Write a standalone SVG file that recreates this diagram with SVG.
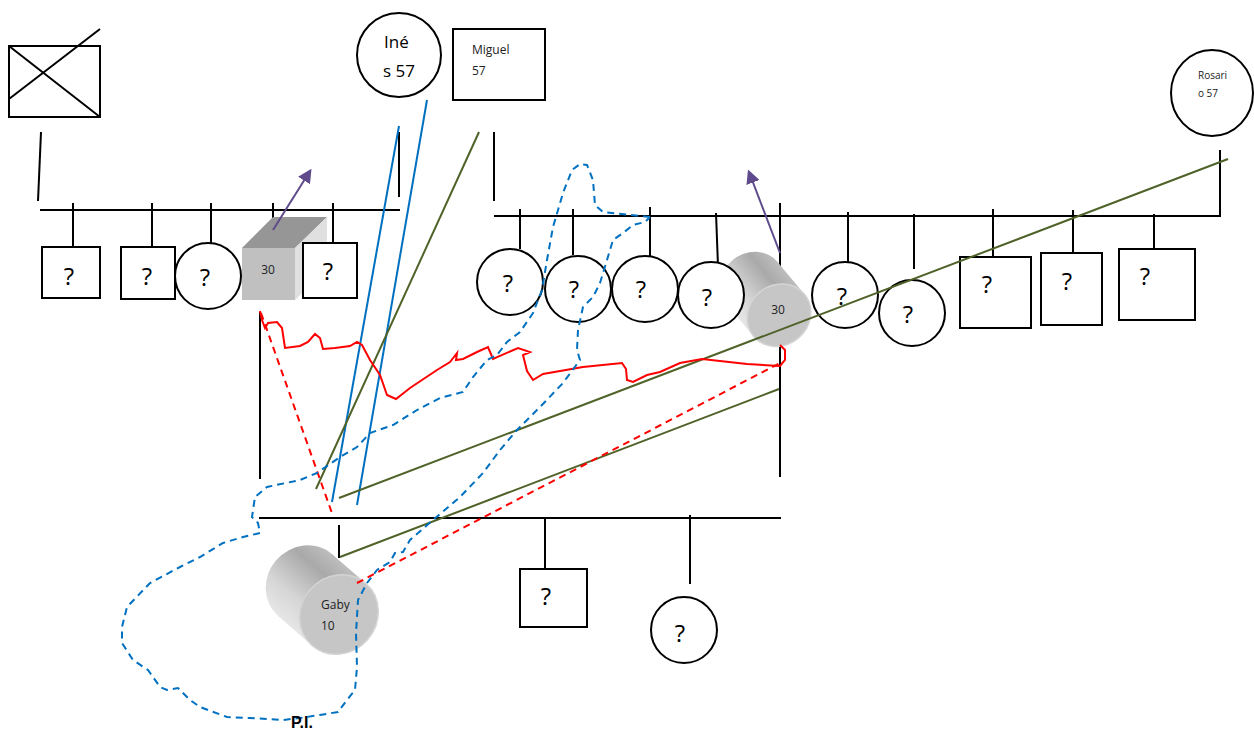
<svg xmlns="http://www.w3.org/2000/svg" width="1254" height="732" viewBox="0 0 1254 732">
<style>
.ln{stroke:#000;stroke-width:2;fill:none}
.nd{fill:#fff;stroke:#000;stroke-width:2}
.q{font-family:"Open Sans","Liberation Sans",sans-serif;font-size:24px;fill:#000;text-anchor:middle}
.sm{font-family:"Open Sans","Liberation Sans",sans-serif;font-size:12px;fill:#222}
.blue{stroke:#0070c0;stroke-width:2;fill:none}
.bd{stroke:#0070c0;stroke-width:2;fill:none;stroke-dasharray:7,5}
.green{stroke:#4f6228;stroke-width:2;fill:none}
.red{stroke:#ff0000;stroke-width:2;fill:none}
.rd{stroke:#ff0000;stroke-width:2;fill:none;stroke-dasharray:7,5}
.pur{stroke:#5f4b8b;stroke-width:2;fill:none}
</style>
<defs>
<linearGradient id="cyl" x1="0" y1="0" x2="0" y2="1">
<stop offset="0" stop-color="#bdbdbd"/>
<stop offset="0.25" stop-color="#a9a9a9"/>
<stop offset="0.7" stop-color="#d6d6d6"/>
<stop offset="1" stop-color="#e6e6e6"/>
</linearGradient>
<marker id="arr" viewBox="0 0 10 10" refX="8" refY="5" markerWidth="7" markerHeight="7" orient="auto">
<path d="M0,0 L10,5 L0,10 z" fill="#5f4b8b"/>
</marker>
</defs>

<g id="family-lines">
<line class="ln" x1="41" y1="132" x2="38" y2="201"/>
<line class="ln" x1="40" y1="210" x2="400" y2="210"/>
<line class="ln" x1="399" y1="132" x2="399" y2="197"/>
<line class="ln" x1="73" y1="203" x2="73" y2="247"/>
<line class="ln" x1="152" y1="203" x2="152" y2="247"/>
<line class="ln" x1="211" y1="203" x2="211" y2="243"/>
<line class="ln" x1="273" y1="203" x2="273" y2="218"/>
<line class="ln" x1="333" y1="203" x2="333" y2="243"/>
<line class="ln" x1="494" y1="132" x2="494" y2="201"/>
<line class="ln" x1="494" y1="216" x2="1221" y2="216"/>
<line class="ln" x1="1220" y1="150" x2="1220" y2="216"/>
<line class="ln" x1="520" y1="209" x2="520" y2="249"/>
<line class="ln" x1="573" y1="209" x2="573" y2="255"/>
<line class="ln" x1="650" y1="207" x2="650" y2="256"/>
<line class="ln" x1="716" y1="213" x2="718" y2="266"/>
<line class="ln" x1="780" y1="203" x2="780" y2="477"/>
<line class="ln" x1="848" y1="212" x2="848" y2="262"/>
<line class="ln" x1="914" y1="214" x2="914" y2="269"/>
<line class="ln" x1="993" y1="209" x2="993" y2="257"/>
<line class="ln" x1="1073" y1="210" x2="1073" y2="263"/>
<line class="ln" x1="1154" y1="214" x2="1154" y2="258"/>
<line class="ln" x1="260" y1="312" x2="260" y2="479"/>
<line class="ln" x1="259" y1="518" x2="781" y2="518"/>
<line class="ln" x1="339" y1="525" x2="339" y2="558"/>
<line class="ln" x1="545" y1="518" x2="545" y2="569"/>
<line class="ln" x1="690" y1="515" x2="690" y2="584"/>
</g>

<g id="node-deceased">
<rect class="nd" x="9" y="46" width="91" height="71"/>
<line class="ln" x1="9" y1="46" x2="100" y2="117"/>
<line class="ln" x1="9" y1="99" x2="100" y2="29"/>
</g>

<g id="node-c1"><rect class="nd" x="42" y="247" width="58" height="51"/><text class="q" x="69" y="285">?</text></g>
<g id="node-c2"><rect class="nd" x="121" y="247" width="54" height="52"/><text class="q" x="147" y="285">?</text></g>
<g id="node-c3"><circle class="nd" cx="208" cy="276" r="33"/><text class="q" x="205" y="286">?</text></g>
<g id="node-cube30">
<polygon points="242,248 273,217 327,217 295,248" fill="#969696"/>
<polygon points="295,248 327,217 327,270 295,300" fill="#e0e0e0"/>
<rect x="242" y="248" width="53" height="52" fill="#c0c0c0"/>
<text class="sm" x="268" y="274" text-anchor="middle">30</text>
</g>
<g id="node-c5"><rect class="nd" x="303" y="243" width="54" height="55"/><text class="q" x="328" y="280">?</text></g>

<g id="node-ines"><circle class="nd" cx="399" cy="55" r="42"/>
<text font-family="Open Sans, Liberation Sans, sans-serif" font-size="17" x="384" y="48">Iné</text>
<text font-family="Open Sans, Liberation Sans, sans-serif" font-size="17" x="383" y="77">s 57</text></g>
<g id="node-miguel"><rect class="nd" x="453" y="29" width="92" height="71"/>
<text class="sm" x="472" y="54">Miguel</text><text class="sm" x="472" y="75">57</text></g>
<g id="node-rosario"><ellipse class="nd" cx="1212" cy="93" rx="41" ry="43"/>
<text font-family="Open Sans, Liberation Sans, sans-serif" font-size="10" fill="#222" x="1198" y="79">Rosari</text>
<text font-family="Open Sans, Liberation Sans, sans-serif" font-size="10" fill="#222" x="1198" y="97">o 57</text></g>

<g id="node-cyl30">
<g transform="translate(752,283) rotate(50)">
<ellipse cx="0" cy="0" rx="30" ry="33" fill="url(#cyl)"/>
<rect x="0" y="-33" width="42" height="66" fill="url(#cyl)"/>
<ellipse cx="42" cy="0" rx="30" ry="33" fill="#c6c6c6" stroke="#d4d4d4" stroke-width="1.5"/>
</g>
<text class="sm" x="778" y="314" text-anchor="middle">30</text>
</g>
<g id="node-r1"><circle class="nd" cx="510" cy="282" r="33"/><text class="q" x="508" y="292">?</text></g>
<g id="node-r2"><circle class="nd" cx="578" cy="289" r="33"/><text class="q" x="574" y="298">?</text></g>
<g id="node-r3"><circle class="nd" cx="645" cy="289" r="33"/><text class="q" x="641" y="298">?</text></g>
<g id="node-r4"><circle class="nd" cx="711" cy="295" r="33"/><text class="q" x="707" y="306">?</text></g>
<g id="node-r6"><circle class="nd" cx="845" cy="295" r="33"/><text class="q" x="842" y="305">?</text></g>
<g id="node-r7"><circle class="nd" cx="912" cy="313" r="33"/><text class="q" x="908" y="323">?</text></g>
<g id="node-r8"><rect class="nd" x="960" y="257" width="71" height="71"/><text class="q" x="987" y="293">?</text></g>
<g id="node-r9"><rect class="nd" x="1041" y="253" width="61" height="72"/><text class="q" x="1067" y="290">?</text></g>
<g id="node-r10"><rect class="nd" x="1119" y="249" width="76" height="71"/><text class="q" x="1145" y="285">?</text></g>

<g id="node-gaby">
<g transform="translate(305,585) rotate(41)">
<ellipse cx="0" cy="0" rx="38" ry="41" fill="url(#cyl)"/>
<rect x="0" y="-41" width="45" height="82" fill="url(#cyl)"/>
<ellipse cx="45" cy="0" rx="38" ry="41" fill="#c6c6c6" stroke="#d4d4d4" stroke-width="1.5"/>
</g>
<text class="sm" x="321" y="609">Gaby</text><text class="sm" x="321" y="630">10</text>
</g>
<g id="node-b1"><rect class="nd" x="520" y="569" width="67" height="58"/><text class="q" x="546" y="605">?</text></g>
<g id="node-b2"><circle class="nd" cx="684" cy="630" r="33"/><text class="q" x="680" y="642">?</text></g>

<g id="connectors">
<line class="blue" x1="399" y1="126" x2="332" y2="502"/>
<line class="blue" x1="427" y1="100" x2="357" y2="505"/>
<line class="green" x1="479" y1="132" x2="316" y2="489"/>
<line class="green" x1="339" y1="498" x2="1228" y2="159"/>
<line class="green" x1="340" y1="557" x2="779" y2="389"/>
<line class="rd" x1="261" y1="313" x2="333" y2="516"/>
<line class="rd" x1="357" y1="583" x2="782" y2="362"/>
<line class="pur" x1="273" y1="230" x2="310" y2="171" marker-end="url(#arr)"/>
<line class="pur" x1="780" y1="253" x2="749" y2="172" marker-end="url(#arr)"/>
<path class="red" d="M260,311 L262,320 L265,328 L268,323 L277,322 L282,328 L285,348 L300,346 L308,342 L315,334 L320,338 L323,349 L335,348 L350,346 L357,342 L362,345 L370,360 L380,375 L387,395 L396,399 L410,388 L437,370 L450,362 L457,353 L456,360 L463,359 L477,352 L488,347 L493,359 L518,348 L530,352 L523,355 L527,371 L533,380 L543,374 L583,367 L622,363 L626,369 L627,380 L633,382 L647,375 L660,372 L680,363 L702,359 L747,364 L780,366 L785,360 L785,350 L780,345"/>
<path class="bd" d="M650,217 L603,212 L595,205 L593,180 L587,165 L580,164 L572,170 L563,193 L553,227 L547,260 L542,290 L533,313 L520,332 L507,342 L497,355 L487,360 L473,377 L463,392 L440,398 L417,410 L393,425 L370,433 L357,447 L340,457 L317,473 L300,480 L267,487 L255,497 L252,517 L258,523 L260,533 L243,537 L223,543 L200,557 L180,567 L150,583 L127,607 L122,627 L122,643 L133,660 L148,670 L160,687 L167,690 L178,688 L190,700 L200,707 L227,717 L250,718 L283,720 L300,718 L320,715 L338,712 L347,700 L355,690 L357,667 L356,633 L358,600 L367,583 L377,570 L390,562 L395,553 L403,552 L410,540 L433,520 L460,497 L483,473 L500,450 L517,430 L540,407 L563,383 L580,360 L577,350 L578,330 L583,307 L593,297 L600,283 L607,260 L613,240 L623,233 L633,225 L645,222 L650,217"/>
</g>

<text font-family="Liberation Sans, Arial, sans-serif" font-weight="bold" font-size="16" x="291" y="728">P.I.</text>
</svg>
